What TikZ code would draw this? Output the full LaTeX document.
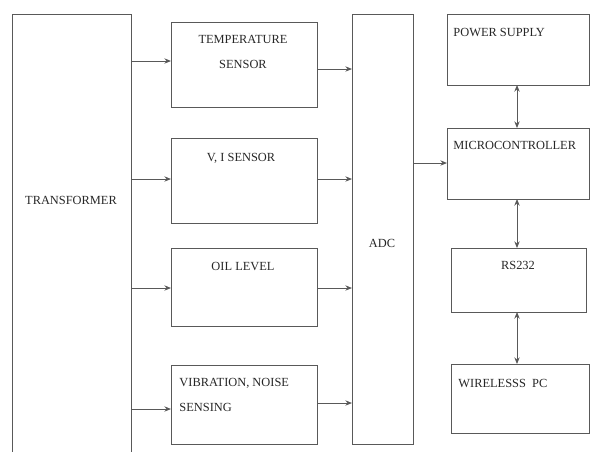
\documentclass[tikz,border=0pt]{standalone}
\usepackage{fontspec}
\setmainfont{Liberation Serif}
\usetikzlibrary{arrows.meta, positioning}

\begin{document}
\begin{tikzpicture}[
    x=0.75pt, y=-0.75pt, >={Stealth[length=5pt,width=4pt]},
    line width=0.7pt, draw=black!65,
    blk/.style={draw=black!65, rectangle, anchor=north west, inner sep=0pt, outer sep=0pt},
    lbl/.style={text=black!85, inner sep=0pt, font=\fontsize{9.3}{18.75}\selectfont}]

    \useasboundingbox (0,0) rectangle (590,451);
    \clip (0,0) rectangle (590,451);

    % Define blocks
    \node[blk, minimum width=119*0.75pt, minimum height=460*0.75pt] (trans) at (12,14) {};
    \node[blk, minimum width=146*0.75pt, minimum height=85*0.75pt] (temp) at (171,22) {};
    \node[blk, minimum width=146*0.75pt, minimum height=85*0.75pt] (vi) at (171,138) {};
    \node[blk, minimum width=146*0.75pt, minimum height=78*0.75pt] (oil) at (171,248) {};
    \node[blk, minimum width=146*0.75pt, minimum height=79*0.75pt] (vib) at (171,365) {};
    \node[blk, minimum width=61*0.75pt, minimum height=430*0.75pt] (adc) at (352,14) {};
    \node[blk, minimum width=142*0.75pt, minimum height=71*0.75pt] (ps) at (447,14) {};
    \node[blk, minimum width=142*0.75pt, minimum height=71*0.75pt] (mc) at (447,128) {};
    \node[blk, minimum width=135*0.75pt, minimum height=64*0.75pt] (rs) at (451,248) {};
    \node[blk, minimum width=138*0.75pt, minimum height=69*0.75pt] (pc) at (451,364) {};

    % Define labels
    \node[lbl] (transtxt) at (71,200) {TRANSFORMER};
    \node[lbl, align=center] (temptxt) at (243,52) {TEMPERATURE\\SENSOR};
    \node[lbl] (vitxt) at (241,158) {V, I SENSOR};
    \node[lbl] (oiltxt) at (243,266) {OIL LEVEL};
    \node[lbl, align=left, anchor=west] (vibtxt) at (179,395) {VIBRATION,\ NOISE\\SENSING};
    \node[lbl] (adctxt) at (382,243) {ADC};
    \node[lbl, anchor=west] (pstxt) at (453,32) {POWER SUPPLY};
    \node[lbl, anchor=west] (mctxt) at (453,145) {MICROCONTROLLER};
    \node[lbl] (rstxt) at (518,265) {RS232};
    \node[lbl, anchor=west] (pctxt) at (458,383) {WIRELESSS\ \ PC};

    % Draw connections
    \draw[->] (trans.east |- 0,61) -- (temp.west |- 0,61);
    \draw[->] (trans.east |- 0,179) -- (vi.west |- 0,179);
    \draw[->] (trans.east |- 0,288) -- (oil.west |- 0,288);
    \draw[->] (trans.east |- 0,409) -- (vib.west |- 0,409);
    \draw[->] (temp.east |- 0,69) -- (adc.west |- 0,69);
    \draw[->] (vi.east |- 0,179) -- (adc.west |- 0,179);
    \draw[->] (oil.east |- 0,288) -- (adc.west |- 0,288);
    \draw[->] (vib.east |- 0,403) -- (adc.west |- 0,403);
    \draw[->] (adc.east |- 0,163) -- (mc.west |- 0,163);
    \draw[<->] (ps.south -| 517,0) -- (mc.north -| 517,0);
    \draw[<->] (mc.south -| 517,0) -- (rs.north -| 517,0);
    \draw[<->] (rs.south -| 517,0) -- (pc.north -| 517,0);
\end{tikzpicture}
\end{document}
